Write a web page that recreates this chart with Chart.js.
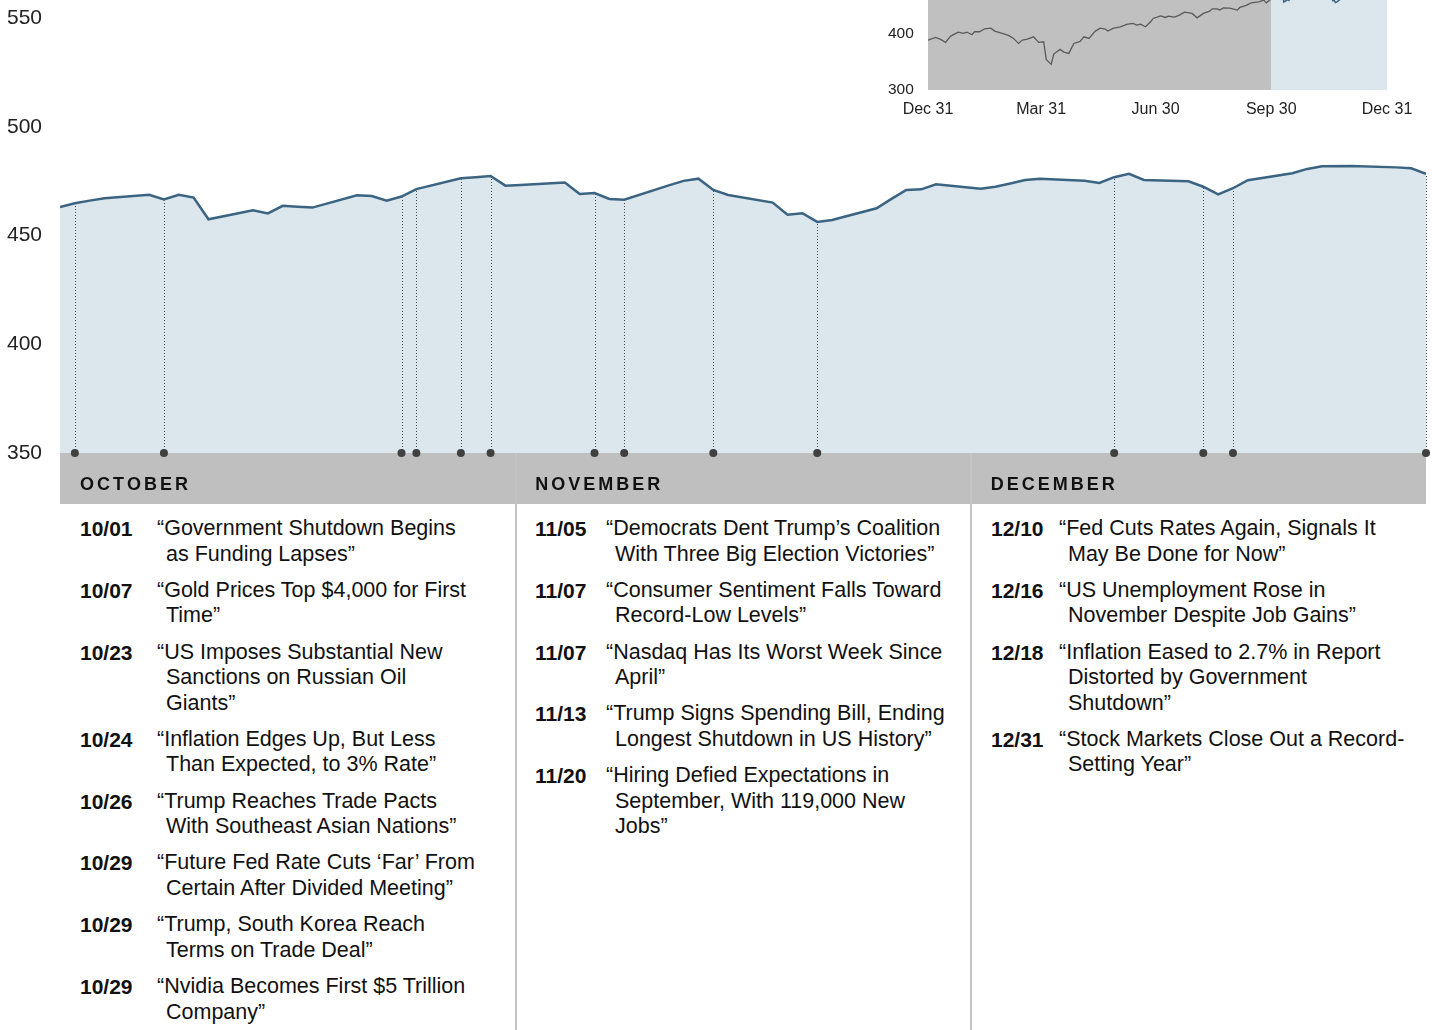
<!DOCTYPE html>
<html>
<head>
<meta charset="utf-8">
<script src="https://cdn.jsdelivr.net/npm/chart.js@4"></script>
<style>
  body { margin: 0; width: 1432px; height: 1030px; overflow: hidden; background: #fff;
         font-family: "Liberation Sans", Arial, sans-serif; color: #111; }
  #main { position: absolute; left: 0; top: 0; }
  #inset { position: absolute; left: 880px; top: 0; }
  .rule { position: absolute; top: 453px; width: 2px; height: 577px; background: #c4c4c4; }
  .col { position: absolute; top: 516px; font-size: 21.5px; line-height: 25.5px; white-space: nowrap; }
  .item { position: relative; margin-bottom: 10.8px; }
  .item b { position: absolute; left: 0; top: 0; font-size: 21px; }
  .item div { text-indent: -9px; }
</style>
</head>
<body>
<canvas id="main" width="1432" height="510"></canvas>
<canvas id="inset" width="552" height="125"></canvas>
<div class="rule" style="left:515px"></div>
<div class="rule" style="left:970px"></div>
<div class="col" id="col0" style="left:80px"></div>
<div class="col" id="col1" style="left:535px"></div>
<div class="col" id="col2" style="left:991px"></div>
<script>
// Q4 daily closes (trading days, MM-DD 2025)
const dates = ['09-30','10-01','10-02','10-03','10-06','10-07','10-08','10-09','10-10',
  '10-13','10-14','10-15','10-16','10-17','10-20','10-21','10-22','10-23','10-24',
  '10-27','10-28','10-29','10-30','10-31','11-03','11-04','11-05','11-06','11-07',
  '11-10','11-11','11-12','11-13','11-14','11-17','11-18','11-19','11-20','11-21',
  '11-24','11-25','11-26','11-27','11-28','12-01','12-02','12-03','12-04','12-05',
  '12-08','12-09','12-10','12-11','12-12','12-15','12-16','12-17','12-18','12-19',
  '12-22','12-23','12-24','12-26','12-29','12-30','12-31'];
const values = [463.2,464.9,466.1,467.2,468.8,466.7,468.8,467.5,457.5,
  461.7,460.2,463.7,463.3,462.9,468.6,468.2,466.1,468.0,471.4,
  476.4,476.9,477.4,473.0,473.3,474.4,469.2,469.6,466.9,466.5,
  473.1,475.2,476.2,471.0,468.7,465.2,459.6,460.3,456.3,457.2,
  462.6,466.9,471.0,471.3,473.6,471.6,472.5,474.0,475.6,476.2,
  475.2,474.2,476.9,478.4,475.6,475.0,472.5,469.0,471.8,475.5,
  478.7,480.7,481.9,482.0,481.4,481.0,478.4];
const yTicks = [350, 400, 450, 500, 550];

// dots on the timeline (10/26 news sits on the next trading day)
const eventDates = ['10-01','10-07','10-23','10-24','10-27','10-29','11-05','11-07',
  '11-13','11-20','12-10','12-16','12-18','12-31'];
const months = ['OCTOBER', 'NOVEMBER', 'DECEMBER'];

// year-to-date inset: days since Dec 31 2024, values up to Sep 30
const insetDays = [0,6,10,14,18,24,28,31,35,37,41,45,50,53,59,64,68,72,75,79,84,88,92,94,98,100,
  105,108,112,116,121,124,128,133,137,141,143,147,153,158,163,166,169,173,177,179,185,189,191,
  196,200,204,210,214,219,224,226,230,232,235,240,246,248,253,257,263,267,269,273];
const insetValues = [389.3,394.0,390.5,385.1,396.4,403.6,401.2,403.6,398.8,404.2,404.2,409.5,
  410.7,405.4,401.2,397.6,392.3,383.3,389.3,391.1,395.2,385.1,386.3,354.8,345.9,364.3,
  372.6,367.9,365.5,383.3,386.9,395.2,392.3,405.4,410.5,409.0,405.4,410.2,413.1,417.3,
  419.1,416.1,417.9,413.1,422.0,428.0,432.7,429.8,432.1,430.4,433.9,439.3,437.0,429.1,
  437.0,441.1,445.2,445.2,442.9,447.0,446.4,442.9,447.7,451.3,455.9,457.7,460.7,455.9,463.2];
const insetTickDays = [0, 90, 181, 273, 365];
const insetTickLabels = ['Dec 31', 'Mar 31', 'Jun 30', 'Sep 30', 'Dec 31'];
const insetSplitDay = 273;

const octNews = [
  ['10/01', '“Government Shutdown Begins\nas Funding Lapses”'],
  ['10/07', '“Gold Prices Top $4,000 for First\nTime”'],
  ['10/23', '“US Imposes Substantial New\nSanctions on Russian Oil\nGiants”'],
  ['10/24', '“Inflation Edges Up, But Less\nThan Expected, to 3% Rate”'],
  ['10/26', '“Trump Reaches Trade Pacts\nWith Southeast Asian Nations”'],
  ['10/29', '“Future Fed Rate Cuts ‘Far’ From\nCertain After Divided Meeting”'],
  ['10/29', '“Trump, South Korea Reach\nTerms on Trade Deal”'],
  ['10/29', '“Nvidia Becomes First $5 Trillion\nCompany”']
];
const novNews = [
  ['11/05', '“Democrats Dent Trump’s Coalition\nWith Three Big Election Victories”'],
  ['11/07', '“Consumer Sentiment Falls Toward\nRecord-Low Levels”'],
  ['11/07', '“Nasdaq Has Its Worst Week Since\nApril”'],
  ['11/13', '“Trump Signs Spending Bill, Ending\nLongest Shutdown in US History”'],
  ['11/20', '“Hiring Defied Expectations in\nSeptember, With 119,000 New\nJobs”']
];
const decNews = [
  ['12/10', '“Fed Cuts Rates Again, Signals It\nMay Be Done for Now”'],
  ['12/16', '“US Unemployment Rose in\nNovember Despite Job Gains”'],
  ['12/18', '“Inflation Eased to 2.7% in Report\nDistorted by Government\nShutdown”'],
  ['12/31', '“Stock Markets Close Out a Record-\nSetting Year”']
];

const FONT = '"Liberation Sans", Arial, sans-serif';
Chart.defaults.font.family = FONT;

const dayOf = (s, y0, m0, d0) => {
  const [m, d] = s.split('-').map(Number);
  return Math.round((Date.UTC(2025, m - 1, d) - Date.UTC(y0, m0, d0)) / 864e5);
};
const mainPoints = dates.map((s, i) => ({ x: dayOf(s, 2025, 8, 30), y: values[i] }));

const timeline = {
  id: 'timeline',
  afterDatasetsDraw(chart) {
    const { ctx, chartArea: a, scales: { x, y } } = chart;
    ctx.save();
    // month band
    ctx.fillStyle = '#bfbfbf';
    ctx.fillRect(a.left, a.bottom, a.right - a.left, 51);
    ctx.fillStyle = '#111';
    ctx.font = 'bold 18px ' + FONT;
    ctx.textBaseline = 'alphabetic';
    const colW = (a.right - a.left) / 3;
    months.forEach((m, i) => {
      let px = a.left + colW * i + 20;
      for (const ch of m) {
        ctx.fillText(ch, px, a.bottom + 37);
        px += ctx.measureText(ch).width + 3;
      }
    });
    // dotted drop lines and dots
    eventDates.forEach(s => {
      const px = x.getPixelForValue(dayOf(s, 2025, 8, 30));
      const py = y.getPixelForValue(values[dates.indexOf(s)]);
      ctx.strokeStyle = '#4a4a4a';
      ctx.lineWidth = 1;
      ctx.setLineDash([1, 2]);
      ctx.beginPath();
      ctx.moveTo(Math.round(px) + 0.5, a.bottom);
      ctx.lineTo(Math.round(px) + 0.5, py + 1);
      ctx.stroke();
      ctx.setLineDash([]);
      ctx.fillStyle = '#404040';
      ctx.beginPath();
      ctx.arc(px, a.bottom, 4, 0, Math.PI * 2);
      ctx.fill();
    });
    ctx.restore();
  }
};

new Chart(document.getElementById('main'), {
  type: 'line',
  data: {
    datasets: [{
      data: mainPoints,
      borderColor: '#3a6482',
      borderWidth: 2.5,
      backgroundColor: '#dce6ed',
      fill: 'start',
      pointRadius: 0,
      tension: 0
    }]
  },
  options: {
    responsive: false,
    animation: false,
    layout: { padding: { left: 7, right: 6, top: 0, bottom: 57 } },
    plugins: { legend: { display: false }, tooltip: { enabled: false } },
    scales: {
      x: { type: 'linear', min: 0, max: 92, display: false },
      y: {
        min: 350, max: 558.4,
        grid: { display: false }, border: { display: false },
        afterBuildTicks(s) { s.ticks = yTicks.map(v => ({ value: v })); },
        ticks: { crossAlign: 'far', color: '#222', font: { size: 21 }, padding: 0 },
        afterFit(s) { s.width = 53; s.paddingTop = 0; s.paddingBottom = 0; }
      }
    }
  },
  plugins: [timeline]
});

const insetShade = {
  id: 'insetShade',
  beforeDatasetsDraw(chart) {
    const { ctx, chartArea: a, scales: { x } } = chart;
    const sx = x.getPixelForValue(insetSplitDay);
    ctx.save();
    ctx.fillStyle = '#c0c0c0';
    ctx.fillRect(a.left, a.top, sx - a.left, a.bottom - a.top);
    ctx.fillStyle = '#dce6ed';
    ctx.fillRect(sx, a.top, a.right - sx, a.bottom - a.top);
    ctx.restore();
  }
};

new Chart(document.getElementById('inset'), {
  type: 'line',
  data: {
    datasets: [{
      data: insetDays.map((d, i) => ({ x: d, y: insetValues[i] })),
      borderColor: '#5a5a5a', borderWidth: 1.3, pointRadius: 0, tension: 0
    }, {
      data: dates.map((s, i) => ({ x: dayOf(s, 2024, 11, 31), y: values[i] })),
      borderColor: '#3a6482', borderWidth: 1.5, pointRadius: 0, tension: 0
    }]
  },
  options: {
    responsive: false,
    animation: false,
    layout: { padding: { left: 8, right: 45, top: 0, bottom: 0 } },
    plugins: { legend: { display: false }, tooltip: { enabled: false } },
    scales: {
      x: {
        type: 'linear', min: 0, max: 365,
        grid: { display: false, drawTicks: false }, border: { display: false },
        afterBuildTicks(s) { s.ticks = insetTickDays.map(v => ({ value: v })); },
        ticks: { color: '#222', font: { size: 16 }, padding: 10, maxRotation: 0, autoSkip: false,
                 callback: (v, i) => insetTickLabels[i] },
        afterFit(s) { s.height = 35; s.paddingLeft = 0; s.paddingRight = 0; }
      },
      y: {
        min: 300, max: 461,
        grid: { display: false }, border: { display: false },
        afterBuildTicks(s) { s.ticks = [300, 400].map(v => ({ value: v })); },
        ticks: { crossAlign: 'far', color: '#222', font: { size: 15.5 }, padding: 0 },
        afterFit(s) { s.width = 40; s.paddingTop = 0; s.paddingBottom = 0; }
      }
    }
  },
  plugins: [insetShade]
});

// headline columns
const colTextLeft = [86, 80, 77];
[octNews, novNews, decNews].forEach((list, c) => {
  const col = document.getElementById('col' + c);
  list.forEach(([d, t]) => {
    const item = document.createElement('div');
    item.className = 'item';
    const b = document.createElement('b');
    b.textContent = d;
    const hl = document.createElement('div');
    hl.style.marginLeft = colTextLeft[c] + 'px';
    t.split('\n').forEach((line, k) => {
      if (k) hl.appendChild(document.createElement('br'));
      hl.appendChild(document.createTextNode(line));
    });
    item.appendChild(b);
    item.appendChild(hl);
    col.appendChild(item);
  });
});
</script>
</body>
</html>
